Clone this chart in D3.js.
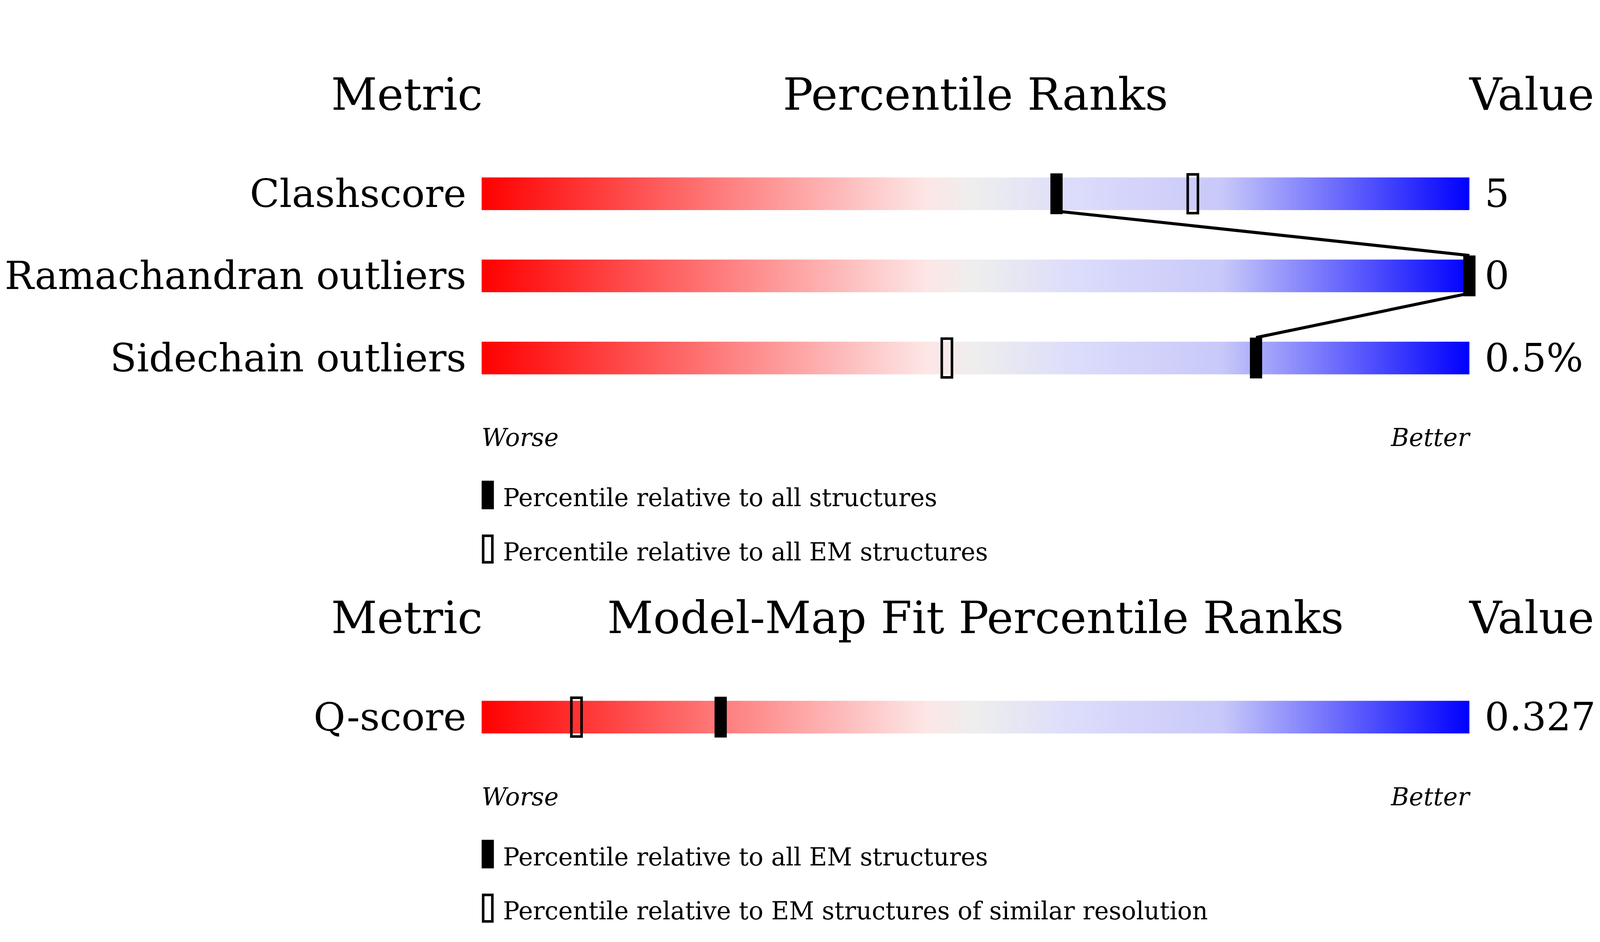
<!DOCTYPE html>
<html><head><meta charset="utf-8">
<script src="https://cdn.jsdelivr.net/npm/d3@7"></script>
<style>html,body{margin:0;padding:0;background:#fff;overflow:hidden}svg{display:block;width:100vw;height:100vh}</style></head>
<body><svg id="c"></svg>
<script>
const metrics1 = ["Clashscore","Ramachandran outliers","Sidechain outliers"];
const values1 = ["5","0","0.5%"];
const pctAll1 = [58.2, 100, 78.4];
const pctEM1 = [72.0, null, 47.1];
const legend1 = ["Percentile relative to all structures","Percentile relative to all EM structures"];
const metrics2 = ["Q-score"];
const values2 = ["0.327"];
const pctAll2 = [24.2];
const pctEM2 = [9.6];
const legend2 = ["Percentile relative to all EM structures","Percentile relative to EM structures of similar resolution"];

const W=1568,H=778;
const svg=d3.select("#c").attr("viewBox",`0 0 ${W} ${H}`).attr("preserveAspectRatio","xMidYMid meet");
const font="DejaVu Serif";
const x=d3.scaleLinear().domain([0,100]).range([472,1440]);
const defs=svg.append("defs");
const g=defs.append("linearGradient").attr("id","grad");
[[0,"#ff0000"],[0.45,"#fde6e6"],[0.5,"#eeeeee"],[0.6,"#dcdcfb"],[0.75,"#c8c8fa"],[1,"#0000ff"]]
 .forEach(([o,c])=>g.append("stop").attr("offset",o).attr("stop-color",c));

function panel(top,title,metrics,values,pAll,pEM,legend){
  const hy=top;
  svg.append("text").attr("x",473).attr("y",hy).attr("text-anchor","end").attr("font-family",font).attr("font-size",44).text("Metric");
  svg.append("text").attr("x",x(50)).attr("y",hy).attr("text-anchor","middle").attr("font-family",font).attr("font-size",44).text(title);
  svg.append("text").attr("x",1440).attr("y",hy).attr("font-family",font).attr("font-size",44).text("Value");
  const y=d3.scaleBand().domain(metrics).range([top+45,top+45+80.5*metrics.length]);
  const cy=m=>y(m)+y.bandwidth()/2-3;
  metrics.forEach((m,i)=>{
    const c=cy(m);
    svg.append("rect").attr("x",x(0)).attr("y",c-16).attr("width",x(100)-x(0)).attr("height",32).attr("fill","url(#grad)");
    svg.append("text").attr("x",457).attr("y",c+13).attr("text-anchor","end").attr("font-family",font).attr("font-size",38).text(m);
    svg.append("text").attr("x",1455).attr("y",c+13).attr("font-family",font).attr("font-size",38).text(values[i]);
  });
  const pts=[];
  metrics.forEach((m,i)=>{const c=cy(m);const xx=Math.min(x(pAll[i]),1441);
    if(i>0)pts.push([xx,c-20]); if(i<metrics.length-1)pts.push([xx,c+17]);});
  for(let i=0;i+1<pts.length;i+=2)
    svg.append("line").attr("x1",pts[i][0]).attr("y1",pts[i][1]).attr("x2",pts[i+1][0]).attr("y2",pts[i+1][1]).attr("stroke","#000").attr("stroke-width",3);
  metrics.forEach((m,i)=>{
    const c=cy(m);
    if(pEM[i]!=null) svg.append("rect").attr("x",x(pEM[i])-5).attr("y",c-19).attr("width",10).attr("height",38).attr("fill","none").attr("stroke","#000").attr("stroke-width",2.5);
    svg.append("rect").attr("x",Math.min(x(pAll[i]),1441)-6).attr("y",c-20).attr("width",12).attr("height",40).attr("fill","#000");
  });
  const by=y.range()[1];
  const wy=by+43;
  svg.append("text").attr("x",472).attr("y",wy).attr("font-family",font).attr("font-style","italic").attr("font-size",24).text("Worse");
  svg.append("text").attr("x",1440).attr("y",wy).attr("text-anchor","end").attr("font-family",font).attr("font-style","italic").attr("font-size",24).text("Better");
  legend.forEach((t,i)=>{
    const ly=wy+34+i*53;
    if(i==0) svg.append("rect").attr("x",472).attr("y",ly).attr("width",12).attr("height",28).attr("fill","#000");
    else svg.append("rect").attr("x",473.5).attr("y",ly+1).attr("width",9).attr("height",26).attr("fill","none").attr("stroke","#000").attr("stroke-width",2.5);
    svg.append("text").attr("x",493).attr("y",ly+25).attr("font-family",font).attr("font-size",24).text(t);
  });
}
panel(35,"Percentile Ranks",metrics1,values1,pctAll1,pctEM1,legend1);
panel(548,"Model-Map Fit Percentile Ranks",metrics2,values2,pctAll2,pctEM2,legend2);
</script></body></html>
